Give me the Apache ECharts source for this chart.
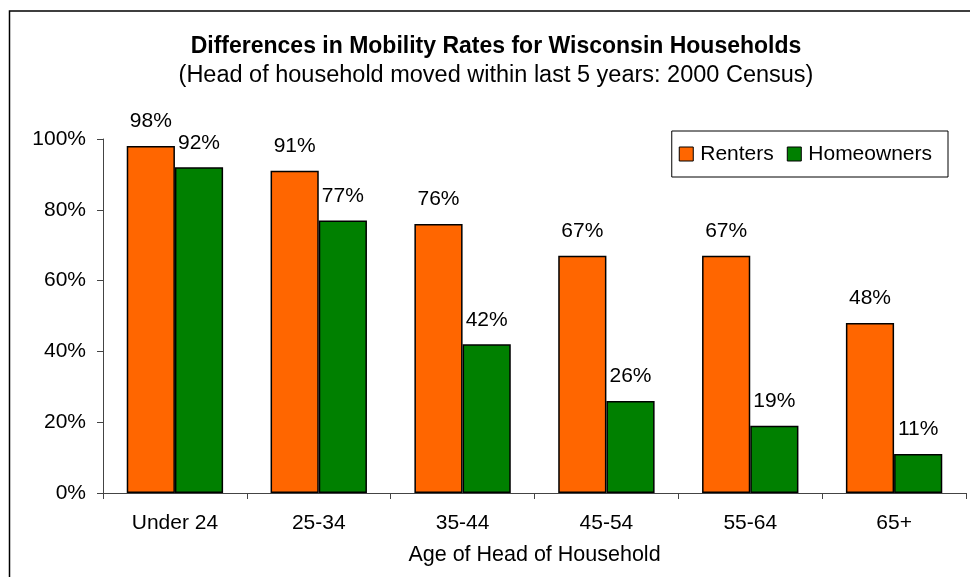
<!DOCTYPE html>
<html><head><meta charset="utf-8">
<script src="https://cdn.jsdelivr.net/npm/echarts@6/dist/echarts.min.js"></script>
<style>html,body{margin:0;padding:0;background:#fff}#c{width:970px;height:577px}</style>
</head><body><div id="c"></div>
<script>
const categories = ['Under 24','25-34','35-44','45-54','55-64','65+'];
const renters = [98,91,76,67,67,48];
const homeowners = [92,77,42,26,19,11];
const yTicks = [0,20,40,60,80,100];

const font = '"Liberation Sans", Arial, sans-serif';
const chart = echarts.init(document.getElementById('c'));
chart.setOption({
  animation:false,
  textStyle:{fontFamily:font},
  graphic:[{type:'rect',shape:{x:9.5,y:11,width:990,height:600},style:{fill:'none',stroke:'#000',lineWidth:1.5},z:-1}],
  title:{
    text:'Differences in Mobility Rates for Wisconsin Households',
    subtext:'(Head of household moved within last 5 years: 2000 Census)',
    left:491, textAlign:'center', top:30, itemGap:6,
    textStyle:{fontFamily:font,fontSize:23,fontWeight:'bold',color:'#000'},
    subtextStyle:{fontFamily:font,fontSize:23.5,color:'#000'}
  },
  legend:{
    right:22, top:131, orient:'horizontal',
    padding:[11,16,11,7], itemGap:13,
    borderColor:'#000', borderWidth:1,
    itemWidth:14, itemHeight:14, icon:'rect',
    itemStyle:{borderColor:'#000',borderWidth:1},
    textStyle:{fontFamily:font,fontSize:21,color:'#000',padding:[2,0,0,2],lineHeight:22},
    data:[{name:'Renters'},{name:'Homeowners'}]
  },
  grid:{left:103,right:4,top:139,bottom:84,containLabel:false,outerBoundsMode:'none'},
  xAxis:{
    type:'category', data:categories,
    name:'Age of Head of Household', nameLocation:'middle', nameGap:51,
    nameTextStyle:{fontFamily:font,fontSize:21.5,color:'#000'},
    axisLine:{lineStyle:{color:'#444',width:1}},
    axisTick:{show:true,length:6,alignWithLabel:false,lineStyle:{color:'#444'}},
    axisLabel:{fontFamily:font,fontSize:21,color:'#000',margin:20}
  },
  yAxis:{
    type:'value', min:0, max:100, interval:20,
    axisLine:{show:true,lineStyle:{color:'#444',width:1}},
    axisTick:{show:true,length:6,lineStyle:{color:'#444'}},
    splitLine:{show:false},
    axisLabel:{fontFamily:font,fontSize:21,color:'#000',margin:17,
      formatter:v=> yTicks.includes(v) ? v+'%' : ''}
  },
  series:[
    {name:'Renters',type:'bar',data:renters,barGap:'0%',barCategoryGap:'33%',
     itemStyle:{color:'#FF6600',borderColor:'#000',borderWidth:1.5},
     label:{show:true,position:'top',distance:14,formatter:'{c}%',fontFamily:font,fontSize:21,color:'#000'}},
    {name:'Homeowners',type:'bar',data:homeowners,barGap:'0%',barCategoryGap:'33%',
     itemStyle:{color:'#008000',borderColor:'#000',borderWidth:1.5},
     label:{show:true,position:'top',distance:14,formatter:'{c}%',fontFamily:font,fontSize:21,color:'#000'}}
  ]
});
</script></body></html>
